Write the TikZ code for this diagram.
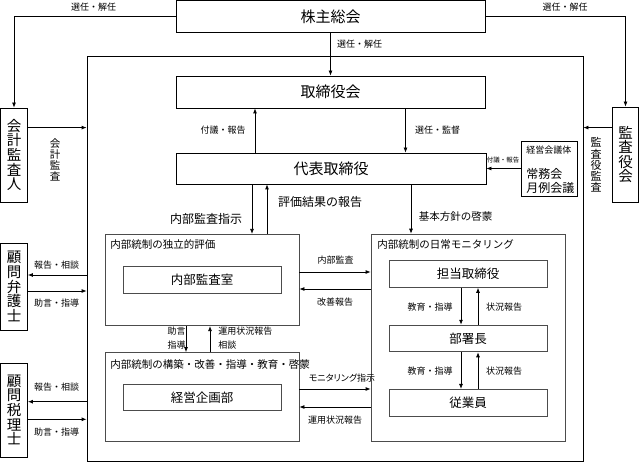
\documentclass[tikz,border=0pt]{standalone}
\usepackage{fontspec}
\setmainfont{Noto Sans CJK JP}
\newfontfamily\propfont[RawFeature=+palt]{Noto Sans CJK JP}
\usepackage{tikz}
\usetikzlibrary{shapes, arrows.meta, positioning}

\begin{document}
\begin{tikzpicture}
  [
    x=1pt, y=-1pt, line width=0.8pt,
    >={Latex[length=5pt,width=4pt]},
    Big/.style={rectangle, draw=black, fill=white, minimum width=309pt, minimum height=32pt, font=\fontsize{15}{15}\selectfont},
    Side/.style={rectangle, draw=black, minimum width=27pt, align=center, inner sep=0pt, font=\fontsize{14.5}{14.6}\selectfont},
    Area/.style={rectangle, draw=black!70, minimum width=194pt},
    Inner/.style={rectangle, draw=black!70, minimum width=158pt, minimum height=26.7pt, font=\fontsize{12.5}{12.5}\selectfont},
    Label/.style={inner sep=0pt, font=\fontsize{9}{14}\selectfont},
    Mid/.style={inner sep=0pt, font=\fontsize{12}{12}\selectfont},
    Title/.style={inner sep=0pt, anchor=west, font=\fontsize{10.5}{10.5}\selectfont}
  ]
  \useasboundingbox (0,0) rectangle (639,462);

  % Nodes (x, y)
  \node[draw, minimum width=496pt, minimum height=405pt] (fr) at (335, 258.5) {};
  \node[Big] (v0) at (330.5, 16.5) {株主総会};
  \node[Big] (v1) at (330.5, 92) {取締役会};
  \node[Big, minimum width=310pt, minimum height=31pt] (v2) at (331, 168.5) {代表取締役};
  \node[draw, minimum width=56pt, minimum height=55pt] (v3) at (549, 168.5) {};
  \node[Side, minimum height=94pt] (v4) at (14, 155) {会\\計\\監\\査\\人};
  \node[Side, minimum height=95pt, minimum width=26.5pt] (v5) at (625.5, 154.5) {監\\査\\役\\会};
  \node[Side, minimum height=87pt] (v6) at (14, 286.5) {顧\\問\\弁\\護\\士};
  \node[Side, minimum height=94pt] (v7) at (14, 410) {顧\\問\\税\\理\\士};
  \node[Area, minimum height=91.4pt] (v8) at (202, 280) {};
  \node[Inner] (v9) at (202, 280) {内部監査室};
  \node[Area, minimum height=207.7pt] (v10) at (468, 338) {};
  \node[Inner] (v11) at (468, 274) {担当取締役};
  \node[Inner] (v12) at (468, 338.5) {部署長};
  \node[Inner] (v13) at (468, 402.7) {従業員};
  \node[Area, minimum height=89pt] (v14) at (202, 397) {};
  \node[Inner] (v15) at (202, 397.3) {経営企画部};

  % Titles
  \node[Title] (t0) at (110, 245) {内部統制の独立的評価};
  \node[Title] (t1) at (377, 245) {内部統制の日常モニタリング};
  \node[Title] (t2) at (110, 365) {内部統制の構築・改善・指導・教育・啓蒙};
  \node[Label, anchor=west] (t3) at (526, 150) {経営会議体};
  \node[inner sep=0pt, anchor=west, align=left, font=\fontsize{12}{14}\selectfont] (t4) at (526, 181) {常務会\\月例会議};

  % Lines
  % selection of directors
  \path [->, draw] (v0) -- (v1);
  \path [->, draw] (v0.west) -| (v4.north);
  \path [->, draw] (v0.east) -| (v5.north);
  % audits into the company
  \path [->, draw] ([yshift=-20pt]v4.north east) -- ([yshift=-20pt]v4.north east -| fr.west);
  \path [->, draw] ([yshift=-21pt]v5.north west) -- ([yshift=-21pt]v5.north west -| fr.east);
  % board <-> representative
  \path [->, draw] ([xshift=-76pt]v2.north) -- ([xshift=-76pt]v2.north |- v1.south);
  \path [->, draw] ([xshift=75pt]v1.south) -- ([xshift=75pt]v1.south |- v2.north);
  \path [->, draw] (v3.west) -- (v2.east);
  % representative -> evaluation / monitoring
  \path [->, draw] ([xshift=-79pt]v2.south) -- ([xshift=-79pt]v2.south |- v8.north);
  \path [->, draw] ([xshift=-64pt]v2.south |- v8.north) -- ([xshift=-64pt]v2.south);
  \path [->, draw] ([xshift=80pt]v2.south) -- ([xshift=80pt]v2.south |- v10.north);
  % evaluation <-> monitoring
  \path [->, draw] ([yshift=8pt]v8.east) -- ([yshift=8pt]v8.east -| v10.west);
  \path [->, draw] ([yshift=-9pt]v8.east -| v10.west) -- ([yshift=-9pt]v8.east);
  % evaluation <-> planning
  \path [->, draw] ([xshift=-16pt]v8.south) -- ([xshift=-16pt]v8.south |- v14.north);
  \path [->, draw] ([xshift=8pt]v8.south |- v14.north) -- ([xshift=8pt]v8.south);
  % planning <-> monitoring
  \path [->, draw] ([yshift=8pt]v14.east) -- ([yshift=8pt]v14.east -| v10.west);
  \path [->, draw] ([yshift=-10pt]v14.east -| v10.west) -- ([yshift=-10pt]v14.east);
  % inside monitoring
  \path [->, draw] ([xshift=-7pt]v11.south) -- ([xshift=-7pt]v12.north);
  \path [->, draw] ([xshift=10pt]v12.north) -- ([xshift=10pt]v11.south);
  \path [->, draw] ([xshift=-7pt]v12.south) -- ([xshift=-7pt]v13.north);
  \path [->, draw] ([xshift=10pt]v13.north) -- ([xshift=10pt]v12.south);
  % advisers
  \path [->, draw] ([yshift=11.5pt]v6.east -| fr.west) -- ([yshift=11.5pt]v6.east);
  \path [->, draw] ([yshift=-4.5pt]v6.east) -- ([yshift=-4.5pt]v6.east -| fr.west);
  \path [->, draw] ([yshift=8.3pt]v7.east -| fr.west) -- ([yshift=8.3pt]v7.east);
  \path [->, draw] ([yshift=-9.3pt]v7.east) -- ([yshift=-9.3pt]v7.east -| fr.west);

  % Labels
  \node[Label] (l0) at (93.5, 7.5) {選任・解任};
  \node[Label] (l1) at (565, 7.5) {選任・解任};
  \node[Label] (l2) at (359.5, 44) {選任・解任};
  \node[Label] (l3) at (223, 130) {付議・報告};
  \node[Label] (l4) at (437.5, 130) {選任・監督};
  \node[Label, font=\fontsize{6.5}{6.5}\selectfont] (l5) at (503, 160) {付議・報告};
  \node[Label, align=center, font=\fontsize{10.5}{11}\selectfont] (l6) at (55, 160) {会\\計\\監\\査};
  \node[Label, align=center, font=\fontsize{11}{11.2}\selectfont] (l7) at (596, 165) {監\\査\\役\\監\\査};
  \node[Mid] (l8) at (206, 219) {内部監査指示};
  \node[Mid] (l9) at (320, 201.7) {評価結果の報告};
  \node[Label, font=\fontsize{10.5}{10.5}\selectfont] (l10) at (455.5, 216.7) {基本方針の啓蒙};
  \node[Label] (l11) at (335.5, 260) {内部監査};
  \node[Label] (l12) at (335, 301.7) {改善報告};
  \node[Label, align=center] (l13) at (176.5, 338) {助言\\指導};
  \node[Label, align=left, anchor=west] (l14) at (218, 338) {運用状況報告\\相談};
  \node[Label, font=\propfont\fontsize{9}{9}\selectfont] (l15) at (342, 377.7) {モニタリング指示};
  \node[Label] (l16) at (335, 420) {運用状況報告};
  \node[Label] (l17) at (430, 306.7) {教育・指導};
  \node[Label] (l18) at (504, 307) {状況報告};
  \node[Label] (l19) at (430, 370.7) {教育・指導};
  \node[Label] (l20) at (504, 370.7) {状況報告};
  \node[Label] (l21) at (56.5, 265) {報告・相談};
  \node[Label] (l22) at (56.5, 303) {助言・指導};
  \node[Label] (l23) at (56.5, 386.7) {報告・相談};
  \node[Label] (l24) at (56.5, 431.7) {助言・指導};

\end{tikzpicture}
\end{document}
